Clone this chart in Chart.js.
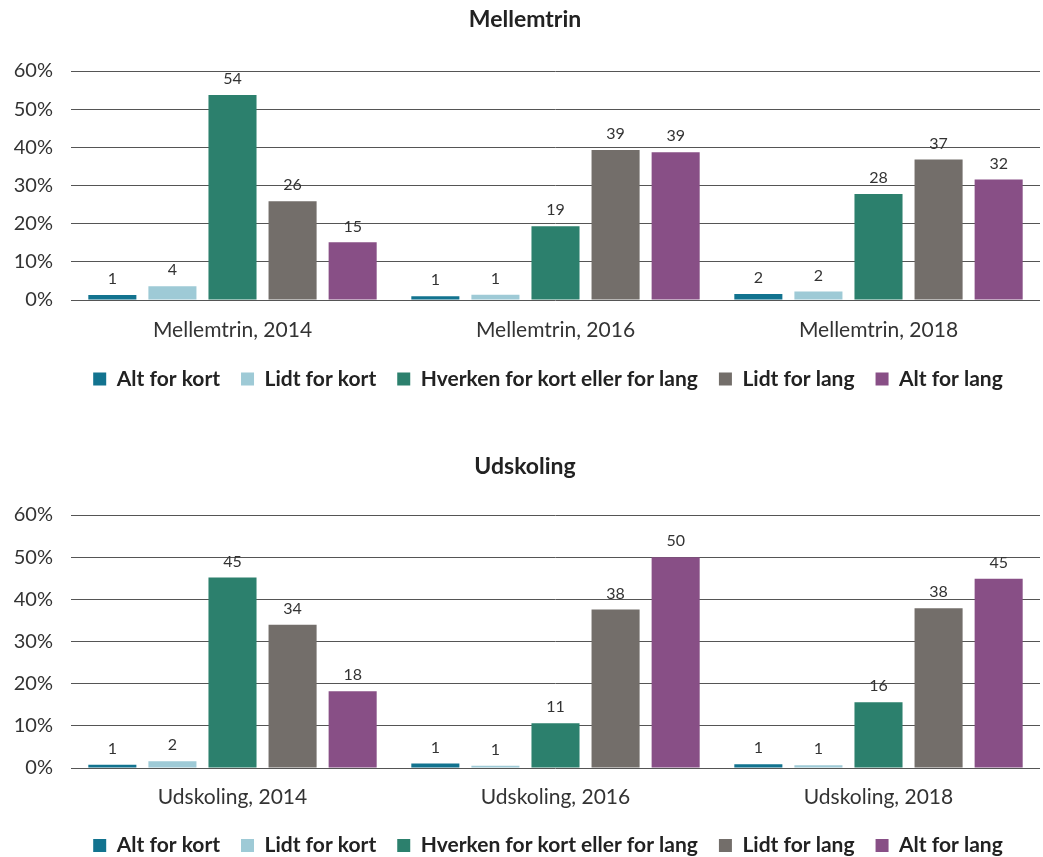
<!DOCTYPE html>
<html>
<head>
<meta charset="utf-8">
<script src="https://cdn.jsdelivr.net/npm/chart.js@4/dist/chart.umd.min.js"></script>
<style>
  body { margin: 0; background: #fff; overflow: hidden; }
  .box { position: absolute; left: 0; width: 1043px; }
  #top { top: 0; height: 404px; }
  #bottom { top: 446px; height: 424px; }
</style>
</head>
<body>
<div class="box" id="top"><canvas id="chartMellemtrin"></canvas></div>
<div class="box" id="bottom"><canvas id="chartUdskoling"></canvas></div>
<script>
// — data —
const seriesNames = ['Alt for kort', 'Lidt for kort', 'Hverken for kort eller for lang', 'Lidt for lang', 'Alt for lang'];
const seriesColors = ['#12738f', '#9ecad6', '#2c806d', '#736e6a', '#884f86'];

const mellemCategories = ['Mellemtrin, 2014', 'Mellemtrin, 2016', 'Mellemtrin, 2018'];
const mellemAltKort    = [1.3, 1.0, 1.6];
const mellemLidtKort   = [3.6, 1.4, 2.2];
const mellemHverken    = [53.7, 19.3, 27.8];
const mellemLidtLang   = [25.9, 39.3, 36.8];
const mellemAltLang    = [15.1, 38.7, 31.6];

const udskCategories = ['Udskoling, 2014', 'Udskoling, 2016', 'Udskoling, 2018'];
const udskAltKort    = [0.8, 1.05, 0.9];
const udskLidtKort   = [1.6, 0.55, 0.65];
const udskHverken    = [45.2, 10.6, 15.6];
const udskLidtLang   = [34.0, 37.6, 37.9];
const udskAltLang    = [18.2, 50.0, 44.9];

const yTicks = [0, 10, 20, 30, 40, 50, 60];

// — tal over søjlerne —
const valueLabels = {
  id: 'valueLabels',
  afterDatasetsDraw(chart) {
    const ctx = chart.ctx;
    ctx.save();
    ctx.font = '16px Lato';
    ctx.fillStyle = '#333333';
    ctx.textAlign = 'center';
    ctx.textBaseline = 'bottom';
    chart.data.datasets.forEach((ds, i) => {
      chart.getDatasetMeta(i).data.forEach((bar, j) => {
        ctx.fillText(Math.round(ds.data[j]), bar.x, bar.y - 8);
      });
    });
    ctx.restore();
  }
};

// legend centreres over plotområdet og rykkes lidt op
const shiftLegend = {
  id: 'shiftLegend',
  afterLayout(chart, args, opts) {
    const lg = chart.legend;
    lg.left += opts.dx;  lg.right += opts.dx;
    lg.top += opts.dy;   lg.bottom += opts.dy;
  }
};

// sp = afstande: titel top/bund, akse-padding, legend-forskydning
function makeChart(id, title, labels, seriesData, sp) {
  const datasets = seriesData.map((data, i) => ({
    label: seriesNames[i],
    data: data,
    backgroundColor: seriesColors[i],
    borderWidth: 0,
    barPercentage: 0.8,
    categoryPercentage: 0.93
  }));
  return new Chart(document.getElementById(id), {
    type: 'bar',
    data: { labels, datasets },
    plugins: [valueLabels, shiftLegend],
    options: {
      responsive: true,
      maintainAspectRatio: false,
      animation: false,
      layout: { padding: { left: 10, right: 3, top: 0, bottom: 0 } },
      plugins: {
        title: {
          display: true,
          text: title,
          color: '#222',
          font: { family: 'Lato', size: 23, weight: 'bold' },
          padding: { top: sp.titleTop, bottom: sp.titleBottom }
        },
        legend: {
          position: 'bottom',
          labels: {
            color: '#222',
            font: { family: 'Lato', size: 21, weight: 'bold' },
            boxWidth: 13,
            boxHeight: 13,
            padding: 21
          }
        },
        shiftLegend: { dx: 23, dy: sp.legendDy },
        tooltip: { enabled: false }
      },
      scales: {
        x: {
          grid: { display: false },
          border: { display: false },
          ticks: { color: '#333', font: { family: 'Lato', size: 21 }, padding: sp.xPad }
        },
        y: {
          min: 0,
          max: 60,
          afterBuildTicks: (axis) => { axis.ticks = yTicks.map(v => ({ value: v })); },
          afterFit: (axis) => { axis.width = 61; },
          grid: { color: '#555', lineWidth: 1, drawTicks: false },
          border: { display: false },
          ticks: {
            color: '#333',
            font: { family: 'Lato', size: 20 },
            padding: 18,
            callback: (v) => v + '%'
          }
        }
      }
    }
  });
}

makeChart('chartMellemtrin', 'Mellemtrin', mellemCategories,
  [mellemAltKort, mellemLidtKort, mellemHverken, mellemLidtLang, mellemAltLang],
  { titleTop: 6, titleBottom: 37.4, xPad: 9.4, legendDy: -4.5 });
makeChart('chartUdskoling', 'Udskoling', udskCategories,
  [udskAltKort, udskLidtKort, udskHverken, udskLidtLang, udskAltLang],
  { titleTop: 7, titleBottom: 34.4, xPad: 8.4, legendDy: -4 });
</script>
</body>
</html>
